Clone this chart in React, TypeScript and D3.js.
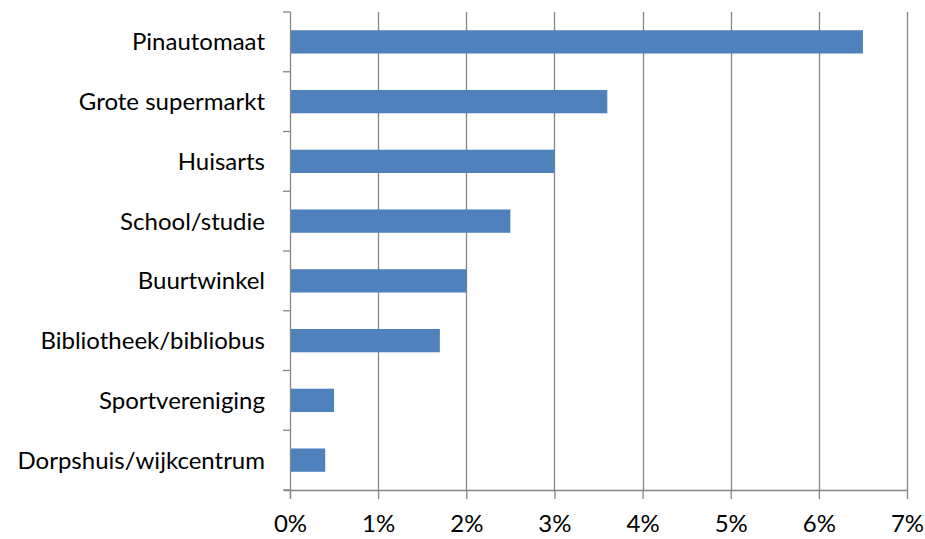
import React, { useEffect, useRef } from "react";
import * as d3 from "d3";

const categories = [
  "Pinautomaat",
  "Grote supermarkt",
  "Huisarts",
  "School/studie",
  "Buurtwinkel",
  "Bibliotheek/bibliobus",
  "Sportvereniging",
  "Dorpshuis/wijkcentrum",
];
const values = [6.5, 3.6, 3.0, 2.5, 2.0, 1.7, 0.5, 0.4];
const xTicks = [0, 1, 2, 3, 4, 5, 6, 7];

const W = 925;
const H = 539;

const App = () => {
  const ref = useRef<SVGSVGElement>(null);

  useEffect(() => {
    if (!ref.current) return;
    const margin = { top: 12, right: 18, bottom: 49, left: 290 };
    const width = W - margin.left - margin.right;
    const height = H - margin.top - margin.bottom;
    const font = "Lato, 'Liberation Sans', sans-serif";
    const fontSize = "24px";

    const svg = d3.select(ref.current);
    svg.selectAll("*").remove();

    const g = svg
      .append("g")
      .attr("transform", `translate(${margin.left},${margin.top})`);

    const x = d3.scaleLinear().domain([0, 7]).range([0, width]);
    const y = d3
      .scaleBand()
      .domain(categories)
      .range([0, height])
      .paddingInner(0.61)
      .paddingOuter(0.305);

    // gridlines
    g.selectAll(".grid")
      .data(xTicks.slice(1))
      .join("line")
      .attr("x1", (d) => Math.round(x(d)) + 0.5)
      .attr("x2", (d) => Math.round(x(d)) + 0.5)
      .attr("y1", 0)
      .attr("y2", height)
      .attr("stroke", "#868686")
      .attr("stroke-width", 1.3);

    // bars
    g.selectAll(".bar")
      .data(values)
      .join("rect")
      .attr("x", x(0) + 1)
      .attr("y", (d, i) => y(categories[i]) as number)
      .attr("width", (d) => x(d) - x(0) - 1)
      .attr("height", y.bandwidth())
      .attr("fill", "#4F81BD");

    // x axis
    const xAxis = g
      .append("g")
      .attr("transform", `translate(0,${height})`)
      .call(
        d3
          .axisBottom(x)
          .tickValues(xTicks)
          .tickFormat((d) => `${d}%`)
          .tickSize(9)
          .tickSizeOuter(0)
          .tickPadding(16)
      );
    xAxis.selectAll("line, path").attr("stroke", "#868686").attr("stroke-width", 1.3);
    xAxis
      .selectAll("text")
      .attr("fill", "#000")
      .style("font-family", font)
      .style("font-size", fontSize);
    xAxis.select(".domain").attr("d", `M-6,0.5H${width}`);

    // y axis
    const step = height / categories.length;
    const yTickPos = d3.range(categories.length + 1).map((i) => i * step);
    g.append("line")
      .attr("x1", 0.5)
      .attr("x2", 0.5)
      .attr("y1", 0)
      .attr("y2", height + 9)
      .attr("stroke", "#868686")
      .attr("stroke-width", 1.3);
    g.selectAll(".ytick")
      .data(yTickPos)
      .join("line")
      .attr("x1", -7)
      .attr("x2", 0.5)
      .attr("y1", (d) => d)
      .attr("y2", (d) => d)
      .attr("stroke", "#868686")
      .attr("stroke-width", 1.3);

    g.selectAll(".ylabel")
      .data(categories)
      .join("text")
      .attr("x", -25)
      .attr("y", (d) => (y(d) as number) + y.bandwidth() / 2)
      .attr("dy", "0.35em")
      .attr("text-anchor", "end")
      .style("font-family", font)
      .style("font-size", fontSize)
      .attr("fill", "#000")
      .text((d) => d);
  }, []);

  return (
    <svg
      ref={ref}
      width={W}
      height={H}
      style={{ position: "absolute", left: 0, top: 0, background: "#fff" }}
    ></svg>
  );
};

export default App;
